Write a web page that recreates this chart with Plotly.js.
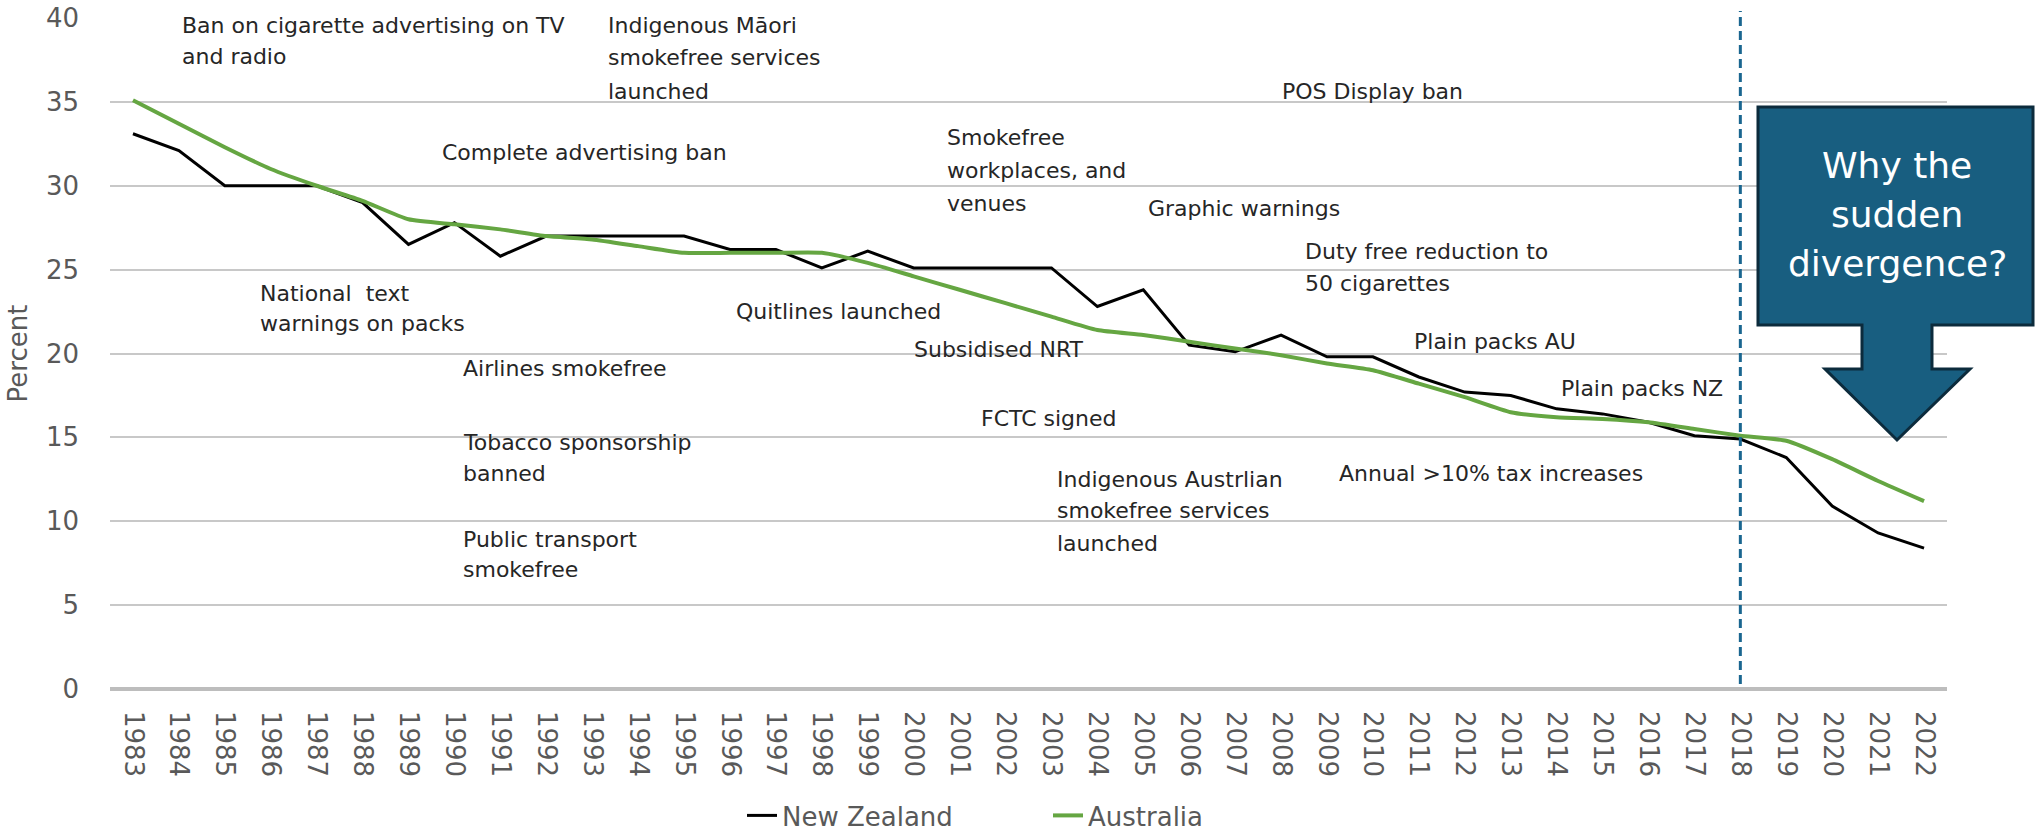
<!DOCTYPE html>
<html>
<head>
<meta charset="utf-8">
<script src="https://cdn.plot.ly/plotly-3.0.1.min.js"></script>
<style>html,body{margin:0;padding:0;background:#fff;}#chart{width:2035px;height:837px;}</style>
</head>
<body>
<div id="chart"></div>
<script>
// ---- Data ----
const years = [1983,1984,1985,1986,1987,1988,1989,1990,1991,1992,1993,1994,1995,1996,1997,1998,1999,2000,2001,2002,2003,2004,2005,2006,2007,2008,2009,2010,2011,2012,2013,2014,2015,2016,2017,2018,2019,2020,2021,2022];
const newZealand = [33.1,32.1,30.0,30.0,30.0,29.0,26.5,27.8,25.8,27.0,27.0,27.0,27.0,26.2,26.2,25.1,26.1,25.1,25.1,25.1,25.1,22.8,23.8,20.5,20.1,21.1,19.8,19.8,18.6,17.7,17.5,16.7,16.4,15.9,15.1,14.9,13.8,10.9,9.3,8.4];
const australia = [35.1,33.7,32.3,31.0,30.0,29.1,28.0,27.7,27.4,27.0,26.8,26.4,26.0,26.0,26.0,26.0,25.4,24.6,23.8,23.0,22.2,21.4,21.1,20.7,20.3,19.9,19.4,19.0,18.2,17.4,16.5,16.2,16.1,15.9,15.5,15.1,14.8,13.7,12.4,11.2];
const yTicks = [0,5,10,15,20,25,30,35,40];
const markerYear = 2018;
const eventLabels = [
  ["Ban on cigarette advertising on TV", 180, 25], ["and radio", 180, 56],
  ["Indigenous Māori", 606, 26], ["smokefree services", 606, 58], ["launched", 606, 91],
  ["POS Display ban", 1280, 91],
  ["Complete advertising ban", 440, 152],
  ["Smokefree", 945, 137], ["workplaces, and", 945, 170], ["venues", 945, 203],
  ["Graphic warnings", 1146, 208],
  ["Duty free reduction to", 1303, 251], ["50 cigarettes", 1303, 283],
  ["National  text", 258, 293], ["warnings on packs", 258, 323],
  ["Quitlines launched", 734, 311],
  ["Subsidised NRT", 912, 349],
  ["Plain packs AU", 1412, 341],
  ["Airlines smokefree", 461, 368],
  ["Plain packs NZ", 1559, 388],
  ["FCTC signed", 979, 418],
  ["Tobacco sponsorship", 461, 443], ["banned", 461, 473],
  ["Annual >10% tax increases", 1337, 473],
  ["Indigenous Austrlian", 1055, 479], ["smokefree services", 1055, 510], ["launched", 1055, 543],
  ["Public transport", 461, 539], ["smokefree", 461, 569]
];
const calloutLines = ["Why the", "sudden", "divergence?"];

// ---- Layout geometry ----
const W = 2035, H = 837, ML = 110, MR = 88, MT = 18, MB = 148;
const PW = W - ML - MR, PH = H - MT - MB;
const px = x => (x - ML) / PW;
const py = y => (H - MB - y) / PH;
const FONT = "DejaVu Sans, Liberation Sans, Arial, sans-serif";

const traces = [
  {x: years, y: newZealand, type: 'scatter', mode: 'lines', name: 'New Zealand',
   line: {color: '#000000', width: 3}},
  {x: years, y: australia, type: 'scatter', mode: 'lines', name: 'Australia',
   line: {color: '#65a642', width: 4, shape: 'spline', smoothing: 0.5}}
];

const annotations = eventLabels.map(([t, x, y]) => ({
  text: t, xref: 'paper', yref: 'paper', x: px(x), y: py(y),
  xanchor: 'left', yanchor: 'middle', showarrow: false,
  font: {family: FONT, size: 22, color: '#262626'}
}));
const calloutY = [165, 214, 263];
calloutLines.forEach((t, i) => annotations.push({
  text: t, xref: 'paper', yref: 'paper', x: px(1897), y: py(calloutY[i]),
  xanchor: 'center', yanchor: 'middle', showarrow: false,
  font: {family: FONT, size: 36, color: '#ffffff'}
}));

// callout box with arrow (pixel outline -> paper)
const pts = [[1758,107],[2033,107],[2033,325],[1932,325],[1932,369],[1970,369],[1897,440],[1825,369],[1862,369],[1862,325],[1758,325]];
const path = 'M' + pts.map(p => px(p[0]).toFixed(5) + ',' + py(p[1]).toFixed(5)).join(' L') + ' Z';
const idx = years.indexOf(markerYear);
const markerX = (idx + 0.5) / years.length;

const shapes = [
  {type: 'line', xref: 'paper', yref: 'paper', x0: markerX, x1: markerX, y0: py(684), y1: py(11),
   line: {color: '#1a6690', width: 3, dash: '9px,5px'}},
  {type: 'path', xref: 'paper', yref: 'paper', path: path,
   fillcolor: '#185e80', line: {color: '#0c2b3c', width: 3}}
];

const layout = {
  width: W, height: H,
  margin: {l: ML, r: MR, t: MT, b: MB, pad: 0, autoexpand: false},
  paper_bgcolor: '#ffffff', plot_bgcolor: '#ffffff',
  showlegend: true,
  legend: {orientation: 'h', x: px(742), xanchor: 'left', y: py(792), yanchor: 'top',
           font: {family: FONT, size: 26, color: '#595959'}, bgcolor: 'rgba(0,0,0,0)',
           entrywidth: 261, entrywidthmode: 'pixels'},
  xaxis: {type: 'category', range: [-0.5, years.length - 0.5], tickangle: 90, automargin: false,
          showgrid: false, showline: false, zeroline: false, ticks: '',
          tickfont: {family: FONT, size: 26, color: '#595959'}, ticklabelstandoff: 21, fixedrange: true},
  yaxis: {range: [0, 40], tickvals: yTicks, ticks: '', showline: false, automargin: false,
          gridcolor: '#c8c8c8', gridwidth: 2, zeroline: true, zerolinecolor: '#bdbdbd', zerolinewidth: 4,
          tickfont: {family: FONT, size: 26, color: '#595959'}, ticklabelstandoff: 30,
          title: {text: 'Percent', font: {family: FONT, size: 26, color: '#595959'}, standoff: 10},
          fixedrange: true},
  annotations: annotations,
  shapes: shapes
};

Plotly.newPlot('chart', traces, layout, {displayModeBar: false, staticPlot: true});
</script>
</body>
</html>
